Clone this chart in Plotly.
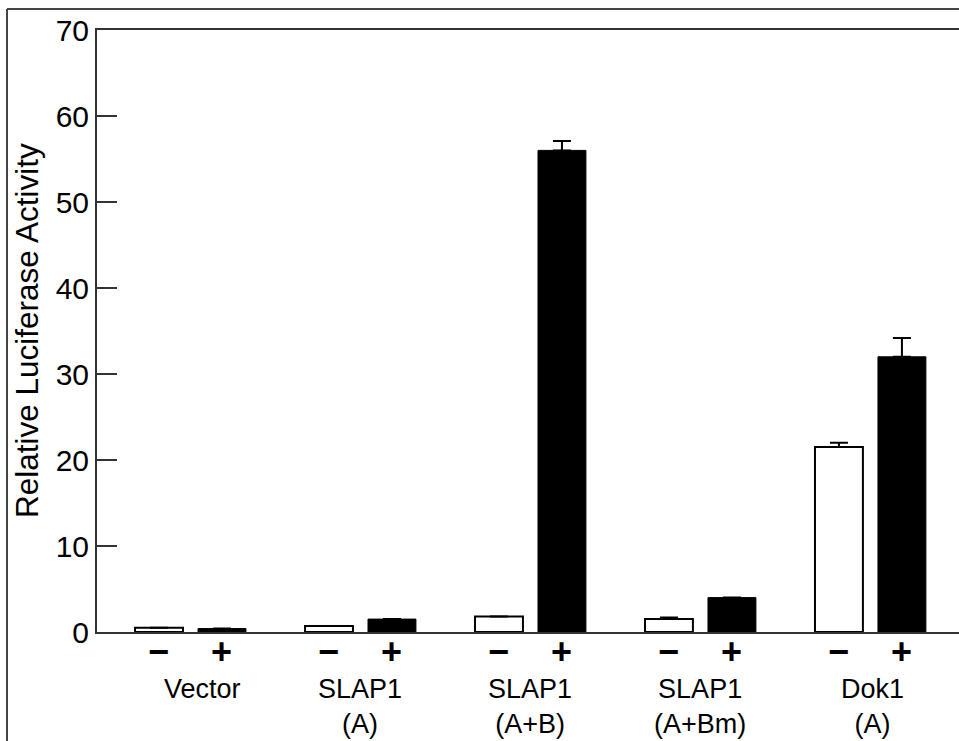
import plotly.graph_objects as go

categories = ["Vector", "SLAP1<br>(A)", "SLAP1<br>(A+B)", "SLAP1<br>(A+Bm)", "Dok1<br>(A)"]
minus_values = [0.5, 0.7, 1.8, 1.5, 21.5]
plus_values = [0.4, 1.5, 56.0, 4.0, 32.0]
minus_err = [None, None, None, 0.2, 0.5]
plus_err = [None, None, 1.1, None, 2.2]
y_ticks = [0, 10, 20, 30, 40, 50, 60, 70]
sign_labels = ["\u2212", "+"]
label_xshift = [12, 0, 0, 0, 2]

FONT = "Liberation Sans, Arial, Helvetica, sans-serif"
AX = "#333333"

fig = go.Figure()
fig.add_trace(go.Bar(
    x=categories, y=minus_values, name="-",
    marker=dict(color="white", line=dict(color="black", width=2)),
    error_y=dict(type="data", array=minus_err, arrayminus=[0]*5, symmetric=False,
                 color="black", thickness=2, width=9),
))
fig.add_trace(go.Bar(
    x=categories, y=plus_values, name="+",
    marker=dict(color="black", line=dict(color="black", width=1)),
    error_y=dict(type="data", array=plus_err, arrayminus=[0]*5, symmetric=False,
                 color="black", thickness=2, width=9),
))

annotations = []
for cat, lx in zip(categories, label_xshift):
    for sgn, shift in zip(sign_labels, (-31.5, 31.5)):
        annotations.append(dict(
            x=cat, xref="x", y=-0.033, yref="paper", text="<b>%s</b>" % sgn,
            showarrow=False, xshift=shift, yanchor="middle",
            font=dict(family=FONT, size=36, color="black"),
        ))
    annotations.append(dict(
        x=cat, xref="x", y=-0.066, yref="paper", text=cat,
        showarrow=False, yanchor="top", align="center", xshift=lx,
        font=dict(family=FONT, size=27, color="black"),
    ))
annotations.append(dict(
    x=-0.0812, xref="paper", y=0.5, yref="paper", text="Relative Luciferase Activity",
    textangle=-90, showarrow=False, xanchor="center", yanchor="middle",
    font=dict(family=FONT, size=31.5, color="black"),
))

shapes = [
    dict(type="line", xref="paper", yref="paper", x0=-0.1044, x1=1.02, y0=1.0349, y1=1.0349,
         line=dict(color="#444444", width=2)),
    dict(type="line", xref="paper", yref="paper", x0=-0.1044, x1=-0.1044, y0=1.0349, y1=-0.25,
         line=dict(color="#444444", width=2)),
]

fig.update_layout(
    width=959, height=741,
    margin=dict(l=97, r=0, t=30, b=109),
    paper_bgcolor="white", plot_bgcolor="white",
    barmode="group", bargap=0.259, bargroupgap=0.239,
    showlegend=False,
    annotations=annotations, shapes=shapes,
    font=dict(family=FONT, color="black"),
)
fig.update_xaxes(
    type="category", range=[-0.55, 4.521],
    showticklabels=False, ticks="",
    showline=True, linecolor=AX, linewidth=2, mirror=True,
    showgrid=False, zeroline=False,
)
fig.update_yaxes(
    range=[0, 70], tickvals=y_ticks, ticktext=[str(v) for v in y_ticks],
    ticks="inside", ticklen=20, tickwidth=2, tickcolor=AX,
    showline=True, linecolor=AX, linewidth=2, mirror=False,
    showgrid=False, zeroline=False,
    tickfont=dict(family=FONT, size=30, color="black"),
)

fig.write_html(
    "out.html",
    config={"displayModeBar": False},
    post_script="document.body.style.margin='0px';document.body.style.overflow='hidden';",
)
